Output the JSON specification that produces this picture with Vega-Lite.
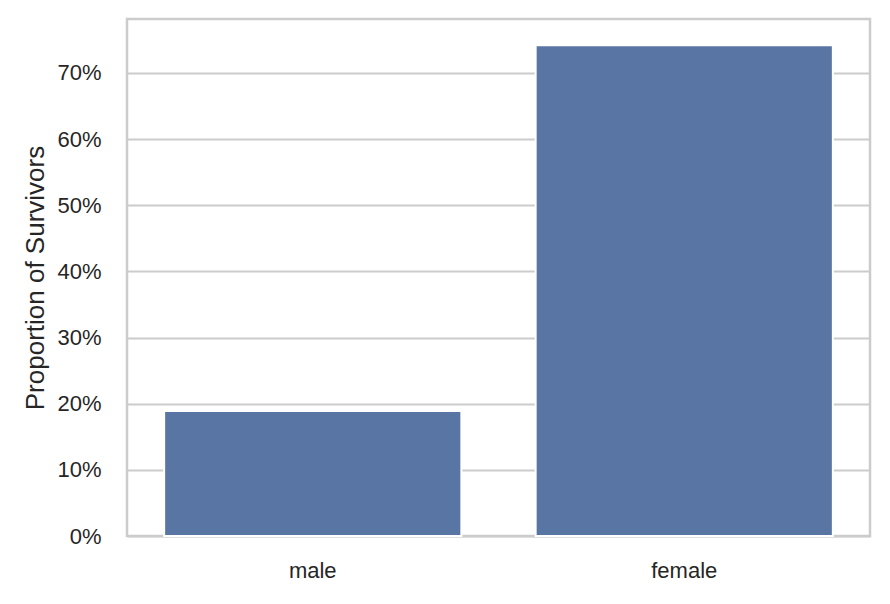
{
  "$schema": "https://vega.github.io/schema/vega-lite/v6.json",
  "autosize": "none",
  "padding": {"left": 127, "top": 19, "right": 20, "bottom": 68},
  "width": 743,
  "height": 517,
  "background": "white",
  "data": {
    "values": [
      {"sex": "male", "survived": 0.1889},
      {"sex": "female", "survived": 0.742}
    ]
  },
  "mark": {"type": "bar", "color": "#5975a4", "stroke": "white", "strokeWidth": 2},
  "encoding": {
    "x": {
      "field": "sex",
      "type": "nominal",
      "sort": ["male", "female"],
      "title": null,
      "scale": {"paddingInner": 0.2, "paddingOuter": 0.1},
      "axis": {"labelAngle": 0, "grid": false, "ticks": false, "domain": false, "labelPadding": 24}
    },
    "y": {
      "field": "survived",
      "type": "quantitative",
      "title": "Proportion of Survivors",
      "scale": {"domain": [0, 0.7816], "nice": false},
      "axis": {
        "format": ".0%",
        "values": [0, 0.1, 0.2, 0.3, 0.4, 0.5, 0.6, 0.7],
        "ticks": false,
        "domain": false,
        "labelPadding": 26,
        "titlePadding": 8,
        "gridColor": "#cccccc",
        "gridWidth": 2,
        "gridOpacity": 1
      }
    }
  },
  "config": {
    "view": {"stroke": "#cccccc", "strokeWidth": 2.5},
    "axis": {
      "labelFont": "Liberation Sans",
      "labelFontSize": 22,
      "labelColor": "#262626",
      "titleFont": "Liberation Sans",
      "titleFontSize": 26,
      "titleFontWeight": "normal",
      "titleColor": "#262626"
    }
  }
}
